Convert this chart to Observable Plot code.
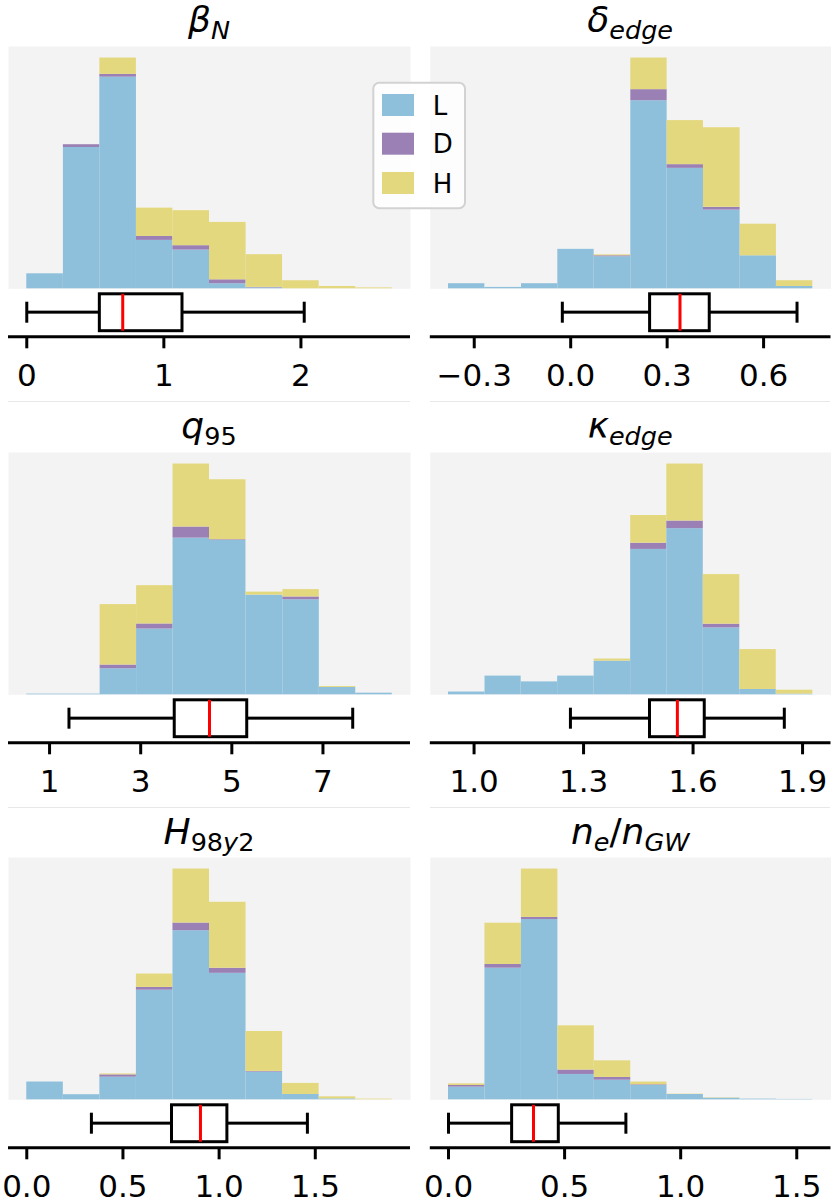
<!DOCTYPE html>
<html><head><meta charset="utf-8">
<script src="https://cdn.jsdelivr.net/npm/d3@7"></script>
<script src="https://cdn.jsdelivr.net/npm/@observablehq/plot@0.6"></script>
<style>
body{margin:0;background:#fff;font-family:"DejaVu Sans",sans-serif;color:#000;}
#fig{position:relative;width:831px;height:1204px;overflow:hidden;background:#fff;}
#fig > svg, #fig > div{position:absolute;}
</style></head><body><div id="fig"></div>
<script>
// ---- classes / colours ----
const classes = ["L", "D", "H"];
const classColors = ["#8ebfdb", "#9b80b5", "#e4d87f"];

// ---- beta_N ----
const betaN_edges = [0, 0.267, 0.533, 0.8, 1.066, 1.333, 1.6, 1.866, 2.133, 2.4, 2.666];
const betaN_L = [6.5, 61.3, 91.8, 21.0, 16.8, 2.2, 0.4, 0, 0, 0];
const betaN_D = [0, 1.2, 1.2, 1.7, 1.9, 1.7, 0.2, 0, 0, 0];
const betaN_H = [0, 0, 7.1, 12.3, 15.2, 24.9, 14.2, 3.5, 1.0, 0.4];
const betaN_box = [0, 0.533, 0.70, 1.136, 2.024];
const betaN_ticks = [0, 1, 2];

// ---- delta_edge ----
const delta_edges = [-0.380, -0.267, -0.153, -0.040, 0.073, 0.187, 0.300, 0.413, 0.527, 0.640, 0.753];
const delta_L = [2.2, 0.6, 2.2, 17.1, 13.9, 81.5, 52.2, 34.1, 14.3, 1.0];
const delta_D = [0, 0, 0, 0, 0.4, 4.8, 1.6, 1.2, 0, 0];
const delta_H = [0, 0, 0, 0, 0.4, 13.7, 19.1, 34.5, 13.7, 2.5];
const delta_box = [-0.026, 0.247, 0.340, 0.4325, 0.704];
const delta_ticks = [-0.3, 0.0, 0.3, 0.6];

// ---- q95 ----
const q95_edges = [0.50, 1.30, 2.11, 2.91, 3.71, 4.51, 5.31, 6.12, 6.92, 7.72, 8.52];
const q95_L = [0.3, 0.3, 11.3, 28.5, 67.9, 66.9, 43.2, 41.2, 3.2, 0.7];
const q95_D = [0, 0, 1.6, 2.2, 4.8, 0.3, 0, 1.2, 0, 0];
const q95_H = [0, 0, 26.2, 16.6, 27.3, 26.0, 1.3, 3.2, 0.4, 0];
const q95_box = [1.426, 3.747, 4.51, 5.338, 7.653];
const q95_ticks = [1, 3, 5, 7];

// ---- kappa_edge ----
const kappa_edges = [0.930, 1.030, 1.129, 1.229, 1.329, 1.429, 1.528, 1.628, 1.728, 1.828, 1.928];
const kappa_L = [1.2, 8.1, 5.6, 8.1, 14.6, 63.0, 72.0, 29.0, 2.3, 0.3];
const kappa_D = [0, 0, 0, 0, 0, 2.7, 3.3, 1.6, 0, 0];
const kappa_H = [0, 0, 0, 0, 0.9, 12.0, 24.7, 21.5, 17.3, 1.7];
const kappa_box = [1.264, 1.482, 1.557, 1.632, 1.850];
const kappa_ticks = [1.0, 1.3, 1.6, 1.9];

// ---- H98y2 ----
const h98_edges = [0, 0.19, 0.38, 0.57, 0.76, 0.95, 1.14, 1.33, 1.52, 1.71, 1.90];
const h98_L = [7.7, 2.2, 9.8, 47.5, 73.3, 54.8, 12.0, 2.3, 0.4, 0];
const h98_D = [0, 0, 1.0, 1.2, 3.3, 2.2, 0.3, 0, 0, 0];
const h98_H = [0, 0, 0.4, 5.8, 23.4, 28.6, 17.3, 4.8, 0.9, 0.3];
const h98_box = [0.336, 0.755, 0.903, 1.043, 1.459];
const h98_ticks = [0.0, 0.5, 1.0, 1.5];

// ---- ne/nGW ----
const ne_edges = [0, 0.157, 0.314, 0.471, 0.628, 0.785, 0.941, 1.098, 1.255, 1.412, 1.569];
const ne_L = [5.5, 57.1, 78.2, 11.0, 8.5, 6.2, 2.3, 0.7, 0.3, 0.15];
const ne_D = [0.7, 1.6, 0.9, 1.9, 1.2, 0.3, 0, 0, 0, 0];
const ne_H = [0.7, 17.9, 21.0, 19.2, 7.2, 1.2, 0.15, 0.15, 0, 0];
const ne_box = [0, 0.274, 0.366, 0.475, 0.764];
const ne_ticks = [0.0, 0.5, 1.0, 1.5];

// titles: [text, italic, subscript]
const betaN_title = [["β",1,0],["N",1,1]];
const delta_title = [["δ",1,0],["edge",1,1]];
const q95_title = [["q",1,0],["95",0,1]];
const kappa_title = [["κ",1,0],["edge",1,1]];
const h98_title = [["H",1,0],["98",0,1],["y",1,1],["2",0,1]];
const ne_title = [["n",1,0],["e",1,1],["/",0,0],["n",1,0],["GW",1,1]];

const panels = [
  {title: betaN_title, edges: betaN_edges, L: betaN_L, D: betaN_D, H: betaN_H, box: betaN_box, ticks: betaN_ticks, fmt: "d"},
  {title: delta_title, edges: delta_edges, L: delta_L, D: delta_D, H: delta_H, box: delta_box, ticks: delta_ticks, fmt: ".1f"},
  {title: q95_title, edges: q95_edges, L: q95_L, D: q95_D, H: q95_H, box: q95_box, ticks: q95_ticks, fmt: "d"},
  {title: kappa_title, edges: kappa_edges, L: kappa_L, D: kappa_D, H: kappa_H, box: kappa_box, ticks: kappa_ticks, fmt: ".1f"},
  {title: h98_title, edges: h98_edges, L: h98_L, D: h98_D, H: h98_H, box: h98_box, ticks: h98_ticks, fmt: ".1f"},
  {title: ne_title, edges: ne_edges, L: ne_L, D: ne_D, H: ne_H, box: ne_box, ticks: ne_ticks, fmt: ".1f"}
];

// ---- layout ----
const cols = [
  {x0: 0, w: 415, ml: 8, mr: 5},
  {x0: 415, w: 416, ml: 14.8, mr: 0.5}
];
const rowTops = [45.7, 451.5, 857.1];
const histH = 242.3, boxH = 48.3, axisBottom = 56;
const sepY = [401.7, 807.7];
const FONT = "DejaVu Sans";
const lw = 3;

const fig = document.getElementById("fig");

panels.forEach((p, k) => {
  const r = Math.floor(k / 2), c = k % 2;
  const col = cols[c];
  const e0 = p.edges[0], e1 = p.edges[p.edges.length - 1];
  const pad = 0.05 * (e1 - e0);
  const xdom = [e0 - pad, e1 + pad];

  const rows = [];
  for (let i = 0; i < p.edges.length - 1; i++) {
    let cum = 0;
    [p.L, p.D, p.H].forEach((arr, j) => {
      const v = arr[i];
      if (v > 0) rows.push({x1: p.edges[i], x2: p.edges[i + 1], y1: cum, y2: cum + v, cls: classes[j]});
      cum += v;
    });
  }
  const ymax = d3.max(rows, d => d.y2);

  const hist = Plot.plot({
    width: col.w, height: histH,
    marginLeft: col.ml, marginRight: col.mr, marginTop: 0, marginBottom: 0,
    x: {domain: xdom, axis: null},
    y: {domain: [0, ymax * 1.05], axis: null},
    color: {domain: classes, range: classColors},
    style: {background: "transparent", overflow: "visible", fontFamily: FONT},
    marks: [
      Plot.frame({fill: "#f3f3f3", stroke: "none"}),
      Plot.rect(rows, {x1: "x1", x2: "x2", y1: "y1", y2: "y2", fill: "cls"})
    ]
  });
  hist.style.left = col.x0 + "px";
  hist.style.top = rowTops[r] + "px";
  fig.appendChild(hist);

  const b = {lo: p.box[0], q1: p.box[1], med: p.box[2], q3: p.box[3], hi: p.box[4]};
  const fmt = d3.format(p.fmt);
  const box = Plot.plot({
    width: col.w, height: boxH + axisBottom,
    marginLeft: col.ml, marginRight: col.mr, marginTop: 0, marginBottom: axisBottom,
    x: {domain: xdom},
    y: {domain: [0, 1], axis: null},
    style: {background: "transparent", overflow: "visible", fontFamily: FONT, color: "#000"},
    marks: [
      Plot.barX([b], {x1: "lo", x2: "q1", fill: "#000", insetTop: (boxH - lw) / 2, insetBottom: (boxH - lw) / 2}),
      Plot.barX([b], {x1: "q3", x2: "hi", fill: "#000", insetTop: (boxH - lw) / 2, insetBottom: (boxH - lw) / 2}),
      Plot.tickX([b], {x: "lo", stroke: "#000", strokeWidth: lw, insetTop: 13.7, insetBottom: 13.6}),
      Plot.tickX([b], {x: "hi", stroke: "#000", strokeWidth: lw, insetTop: 13.7, insetBottom: 13.6}),
      Plot.barX([b], {x1: "q1", x2: "q3", fill: "#fff", stroke: "#000", strokeWidth: lw, insetTop: 5.8, insetBottom: 5.6}),
      Plot.tickX([b], {x: "med", stroke: "#ff0000", strokeWidth: 3, insetTop: 5.8, insetBottom: 5.6}),
      Plot.ruleY([0], {stroke: "#000", strokeWidth: lw}),
      Plot.axisX({ticks: p.ticks, tickFormat: fmt, tickSize: 12, tickPadding: 15, fontSize: 31, strokeWidth: lw, label: null, stroke: "#000", fill: "#000"})
    ]
  });
  box.style.left = col.x0 + "px";
  box.style.top = (rowTops[r] + histH) + "px";
  fig.appendChild(box);
});

// separators between rows
sepY.forEach(y => {
  cols.forEach(col => {
    const d = document.createElement("div");
    d.style.left = (col.x0 + col.ml) + "px";
    d.style.top = (y - 0.5) + "px";
    d.style.width = (col.w - col.ml - col.mr) + "px";
    d.style.height = "1px";
    d.style.background = "#e8e8e8";
    fig.appendChild(d);
  });
});

// overlay: titles and legend
const ov = d3.select(fig).append("svg")
  .attr("width", 831).attr("height", 1204)
  .style("left", "0px").style("top", "0px")
  .style("pointer-events", "none")
  .attr("font-family", FONT);

panels.forEach((p, k) => {
  const r = Math.floor(k / 2), c = k % 2;
  const col = cols[c];
  const cx = col.x0 + col.ml + (col.w - col.ml - col.mr) / 2;
  const t = ov.append("text")
    .attr("x", cx).attr("y", rowTops[r] - 13.3)
    .attr("text-anchor", "middle").attr("font-size", 36).attr("fill", "#000");
  let inSub = false;
  p.title.forEach(([s, it, sub]) => {
    const ts = t.append("tspan").text(s)
      .attr("font-style", it ? "italic" : "normal")
      .attr("font-size", sub ? 25.5 : 36);
    if (sub && !inSub) ts.attr("dy", 7);
    if (!sub && inSub) ts.attr("dy", -7);
    inSub = !!sub;
  });
});

// legend
const lg = ov.append("g");
lg.append("rect").attr("x", 373.3).attr("y", 82.7).attr("width", 91.7).attr("height", 125.6)
  .attr("rx", 6).attr("fill", "#fff").attr("fill-opacity", 0.8)
  .attr("stroke", "#d2d2d2").attr("stroke-width", 2);
const legY = [94, 132.7, 172];
classes.forEach((cl, i) => {
  lg.append("rect").attr("x", 382).attr("y", legY[i]).attr("width", 32).attr("height", 22)
    .attr("fill", classColors[i]);
  lg.append("text").attr("x", 432.7).attr("y", legY[i] + 20.5)
    .attr("font-size", 26).attr("fill", "#000").text(cl);
});
</script></body></html>
